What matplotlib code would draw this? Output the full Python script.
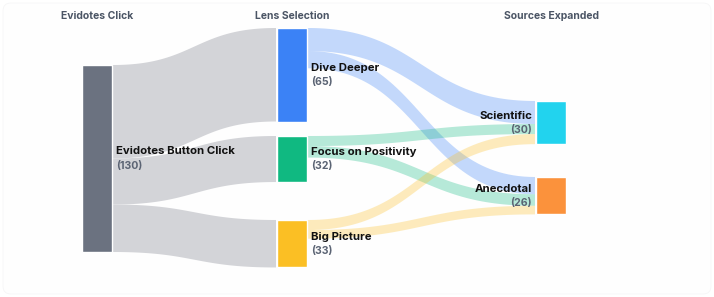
import numpy as np
import matplotlib.pyplot as plt
from matplotlib.patches import Rectangle, FancyBboxPatch, Polygon

plt.rcParams['font.family'] = ['Inter', 'DejaVu Sans']

# data
columns = ["Evidotes Click", "Lens Selection", "Sources Expanded"]
node_names = ["Evidotes Button Click", "Dive Deeper", "Focus on Positivity", "Big Picture",
              "Scientific", "Anecdotal"]
node_values = [130, 65, 32, 33, 30, 26]
node_column = [0, 1, 1, 1, 2, 2]
node_colors = ["#6b7280", "#3b82f6", "#10b981", "#fbbf24", "#22d3ee", "#fb923c"]
link_source = [0, 0, 0, 1, 1, 2, 2, 3, 3]
link_target = [1, 2, 3, 4, 5, 4, 5, 4, 5]
link_values = [65, 32, 33, 16, 12, 7, 8, 7, 6]

# layout (pixels)
W, H = 714, 297
col_x = [82, 277, 536]
node_w = 30
node_top = [65, 28, 136, 220, 101, 177]
scale = 187 / 130

fig = plt.figure(figsize=(W / 100, H / 100), dpi=100)
fig.patch.set_facecolor("white")
ax = fig.add_axes([0, 0, 1, 1])
ax.set_xlim(0, W)
ax.set_ylim(H, 0)
ax.axis("off")

ax.add_patch(FancyBboxPatch((3, 3), W - 6, H - 6, boxstyle="round,pad=0,rounding_size=8",
                            facecolor="#fefefe", edgecolor="#f6f6f7", lw=0.6, zorder=0))

heights = [v * scale for v in node_values]
out_off = [0.0] * len(node_names)
in_off = [0.0] * len(node_names)


def band(x0, y0a, y0b, x1, y1a, y1b, n=60):
    t = np.linspace(0, 1, n)
    xm = (x0 + x1) / 2
    bx = (1 - t) ** 3 * x0 + 3 * (1 - t) ** 2 * t * xm + 3 * (1 - t) * t ** 2 * xm + t ** 3 * x1
    s = 3 * t ** 2 - 2 * t ** 3
    top = y0a + (y1a - y0a) * s
    bot = y0b + (y1b - y0b) * s
    pts = np.concatenate([np.column_stack([bx, top]), np.column_stack([bx[::-1], bot[::-1]])])
    return pts


for s, t, v in zip(link_source, link_target, link_values):
    h = v * scale
    ys = node_top[s] + out_off[s]
    yt = node_top[t] + in_off[t]
    out_off[s] += h
    in_off[t] += h
    x0 = col_x[node_column[s]] + node_w + 1
    x1 = col_x[node_column[t]] - 1
    if s == 0:
        fc, a = "#d3d4d8", 1.0
    else:
        fc, a = node_colors[s], 0.3
    ax.add_patch(Polygon(band(x0, ys, ys + h, x1, yt, yt + h), closed=True,
                         facecolor=fc, alpha=a, edgecolor="none", zorder=1))

for i, name in enumerate(node_names):
    c = node_column[i]
    x = col_x[c]
    y = node_top[i]
    h = heights[i]
    ax.add_patch(Rectangle((x, y), node_w, h, facecolor=node_colors[i], edgecolor="white",
                           lw=1, zorder=3))
    cy = y + h / 2
    if c < 2:
        tx, ha = x + node_w + 4, "left"
    else:
        tx, ha = x - 4, "right"
    ax.text(tx, cy - 7, name, ha=ha, va="center", fontsize=8.2, fontweight="bold",
            color="#111111", zorder=4)
    ax.text(tx, cy + 7, f"({node_values[i]})", ha=ha, va="center", fontsize=7.6,
            fontweight="bold", color="#5b6474", zorder=4)

for c, label in enumerate(columns):
    ax.text(col_x[c] + node_w / 2, 16, label, ha="center", va="center", fontsize=7.5,
            fontweight="bold", color="#4b5565")

fig.savefig("out.png", dpi=100)
